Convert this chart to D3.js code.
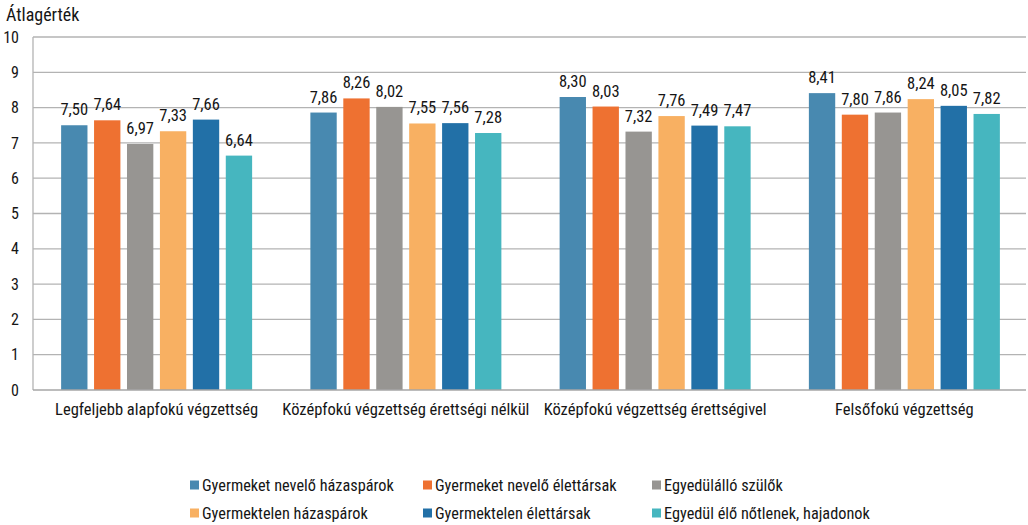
<!DOCTYPE html>
<html>
<head>
<meta charset="utf-8">
<script src="https://cdn.jsdelivr.net/npm/d3@7"></script>
<style>
  body { margin: 0; background: #fff; }
  svg text { font-family: "Roboto Condensed", Roboto, sans-serif; fill: #151515; }
</style>
</head>
<body>
<svg id="chart" width="1028" height="525"></svg>
<script>
// Education level groups
const categories = [
  "Legfeljebb alapfokú végzettség",
  "Középfokú végzettség érettségi nélkül",
  "Középfokú végzettség érettségivel",
  "Felsőfokú végzettség"
];

// Household types (one bar per type in every group)
const seriesNames = [
  "Gyermeket nevelő házaspárok",
  "Gyermeket nevelő élettársak",
  "Egyedülálló szülők",
  "Gyermektelen házaspárok",
  "Gyermektelen élettársak",
  "Egyedül élő nőtlenek, hajadonok"
];
const seriesColors = ["#4889b0", "#ee7131", "#979592", "#f8b062", "#2270a7", "#46b6bf"];

// Mean scores, one array per household type, ordered like categories
const gyermeketNeveloHazasparok = [7.50, 7.86, 8.30, 8.41];
const gyermeketNeveloElettarsak = [7.64, 8.26, 8.03, 7.80];
const egyedulalloSzulok        = [6.97, 8.02, 7.32, 7.86];
const gyermektelenHazasparok   = [7.33, 7.55, 7.76, 8.24];
const gyermektelenElettarsak   = [7.66, 7.56, 7.49, 8.05];
const egyedulEloNotlenek       = [6.64, 7.28, 7.47, 7.82];

const seriesValues = [
  gyermeketNeveloHazasparok, gyermeketNeveloElettarsak, egyedulalloSzulok,
  gyermektelenHazasparok, gyermektelenElettarsak, egyedulEloNotlenek
];

const yTicks = [0, 1, 2, 3, 4, 5, 6, 7, 8, 9, 10];
const yTitle = "Átlagérték";

const svg = d3.select("#chart");
const plot = { left: 32, right: 1029, top: 37, bottom: 390, gridEnd: 1026 };

const x0 = d3.scaleBand().domain(categories).range([plot.left, plot.right]);
const groupSpan = 191;
const groupInset = (x0.bandwidth() - groupSpan) / 2;
const x1 = d3.scaleBand().domain(d3.range(seriesNames.length))
  .range([groupInset, groupInset + groupSpan]).paddingInner(0.2);
const y = d3.scaleLinear().domain([0, 10]).range([plot.bottom, plot.top]);

const fmt = v => d3.format(".2f")(v).replace(".", ",");

// Horizontal gridlines
svg.append("g").selectAll("line").data(yTicks.filter(t => t > 0)).join("line")
  .attr("x1", plot.left + 1).attr("x2", plot.gridEnd)
  .attr("y1", d => y(d)).attr("y2", d => y(d))
  .attr("stroke", "#b3b3b3").attr("stroke-width", 1.3);

// Left axis line
svg.append("line")
  .attr("x1", plot.left + 1).attr("x2", plot.left + 1)
  .attr("y1", plot.top).attr("y2", plot.bottom)
  .attr("stroke", "#b3b3b3").attr("stroke-width", 1.3);

// Y axis tick labels
const yAxis = d3.axisLeft(y).tickValues(yTicks).tickSize(0).tickPadding(0);
const yG = svg.append("g").attr("transform", "translate(19,0)").call(yAxis);
yG.select(".domain").remove();
yG.selectAll("text").attr("font-size", 16).attr("font-family", null).style("fill", "#151515");

svg.append("text").attr("x", 6).attr("y", 21).attr("font-size", 18).text(yTitle);

// Bars and value labels
const groups = svg.append("g").selectAll("g").data(categories).join("g")
  .attr("transform", d => `translate(${x0(d)},0)`);

groups.each(function (cat, ci) {
  const g = d3.select(this);
  const rows = seriesValues.map((vals, si) => ({ si, v: vals[ci] }));
  g.selectAll("rect").data(rows).join("rect")
    .attr("x", d => x1(d.si)).attr("width", x1.bandwidth())
    .attr("y", d => y(d.v)).attr("height", d => y(0) - y(d.v))
    .attr("fill", d => seriesColors[d.si]);
  g.selectAll("text.val").data(rows).join("text").attr("class", "val")
    .attr("x", d => x1(d.si) + x1.bandwidth() / 2)
    .attr("y", d => y(d.v) - 10)
    .attr("text-anchor", "middle").attr("font-size", 16.5)
    .text(d => fmt(d.v));
});

// Baseline
svg.append("line")
  .attr("x1", plot.left + 1).attr("x2", plot.gridEnd)
  .attr("y1", y(0)).attr("y2", y(0))
  .attr("stroke", "#a6a6a6").attr("stroke-width", 1.5);

// Category labels
const xAxis = d3.axisBottom(x0).tickSize(0).tickPadding(0);
const xG = svg.append("g").attr("transform", "translate(0,403)").call(xAxis);
xG.select(".domain").remove();
xG.selectAll("text").attr("font-size", 16.5).attr("font-family", null)
  .attr("dy", "0.71em").style("fill", "#151515");

// Legend
const legendCols = [190, 423, 652];
const legendRows = [485, 513];
const legend = svg.append("g").selectAll("g").data(seriesNames).join("g")
  .attr("transform", (d, i) => `translate(${legendCols[i % 3]},${legendRows[Math.floor(i / 3)]})`);
legend.append("rect").attr("x", 0).attr("y", -4.5).attr("width", 9).attr("height", 9)
  .attr("fill", (d, i) => seriesColors[i]);
legend.append("text").attr("x", 12).attr("y", 0).attr("dy", "0.35em")
  .attr("font-size", 16.3).text(d => d);
</script>
</body>
</html>
